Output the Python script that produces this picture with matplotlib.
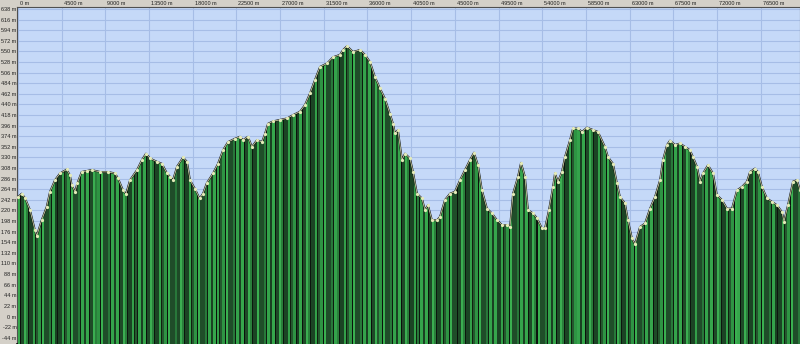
"""
Elevation profile, green striped fill on a light blue grid.
"""

import numpy as np
import matplotlib
matplotlib.use("Agg")
import matplotlib.pyplot as plt
from matplotlib.patches import Rectangle
from matplotlib.transforms import ScaledTranslation

# distance along the route (m) and elevation (m)
distance = [0, 380, 720, 1240, 1750, 1930, 2440, 2960, 3300, 3810, 4330, 5020, 5360, 5530,
            5870, 6110, 6560, 7080, 7590, 8450, 9270, 9990, 10300, 10820, 11120, 11540,
            12260, 12770, 13180, 13600, 14320, 14830, 15350, 15660, 15970, 16380, 17000,
            17410, 17720, 18230, 18700, 19060, 19430, 20090, 20600, 21120, 21630, 22350,
            22870, 23180, 23690, 24100, 24620, 25130, 25440, 25750, 26270, 26990, 27710,
            28330, 29050, 29560, 30080, 30590, 31110, 31830, 32450, 33170, 33480, 33890,
            34510, 35230, 35740, 36260, 36770, 37290, 37800, 38320, 38630, 38830, 39140,
            39550, 39860, 40380, 40690, 41100, 41610, 41920, 42230, 42640, 43160, 43470,
            43980, 44500, 45010, 45530, 46040, 46560, 46970, 47380, 47790, 48310, 48820,
            49340, 49850, 50370, 50680, 50990, 51500, 51810, 52220, 52530, 53050, 53460,
            53970, 54280, 54690, 55110, 55310, 55620, 56030, 56340, 56860, 57170, 57680,
            58090, 58610, 59230, 59740, 60460, 60770, 61290, 61700, 62010, 62520, 62830,
            63240, 63550, 64070, 64580, 65100, 65610, 66130, 66440, 66850, 67160, 67670,
            68190, 68700, 69220, 69530, 69940, 70250, 70560, 71070, 71590, 71990, 72510,
            73030, 73540, 74060, 74570, 75090, 75400, 75910, 76220, 76630, 77150, 77660,
            78180, 78690, 78900, 79310, 79830, 80240, 80550]
elevation = [248, 255, 246, 221, 179, 167, 200, 228, 259, 283, 297, 305, 293, 273,
             259, 276, 300, 302, 304, 300, 300, 297, 287, 262, 254, 283,
             304, 325, 338, 328, 321, 317, 297, 290, 283, 311, 330,
             321, 283, 265, 245, 255, 276, 297, 317, 345, 362, 369,
             373, 366, 373, 352, 366, 362, 379, 400, 405, 408, 411,
             418, 425, 439, 463, 491, 518, 525, 538, 543, 553, 561,
             549, 553, 543, 528, 497, 473, 452, 420, 400, 380, 387,
             325, 338, 328, 300, 255, 245, 221, 231, 200, 200, 207,
             242, 255, 259, 283, 304, 325, 340, 314, 262, 224, 214,
             200, 190, 190, 186, 255, 290, 319, 290, 221, 214, 204,
             183, 183, 221, 269, 297, 280, 300, 331, 366, 390, 390,
             383, 392, 387, 383, 352, 331, 317, 276, 248, 235, 200,
             162, 150, 186, 193, 224, 248, 283, 325, 356, 365, 356,
             359, 352, 345, 331, 311, 280, 297, 314, 297, 252, 242,
             224, 224, 262, 269, 280, 300, 307, 300, 269, 245, 238,
             231, 217, 197, 231, 280, 283, 262]

x_ticks = list(range(0, 80000, 4500))
y_ticks = list(range(-44, 639, 22))

fig = plt.figure(figsize=(8, 3.59), dpi=100, facecolor="#d4d0c8")
fig.patches.append(Rectangle((0, 0), 1, 15 / 359, transform=fig.transFigure,
                             facecolor="white", edgecolor="none", zorder=0))
ax = fig.add_axes([17 / 800, 15 / 359, 783 / 800, 337 / 359])
ax.set_facecolor("#c5d9f8")

ymin, ymax = -57, 642
xmin, xmax = -100, 80550
ax.set_xlim(xmin, xmax)
ax.set_ylim(ymin, ymax)

ax.set_xticks(x_ticks)
ax.set_yticks(y_ticks)
ax.set_xticklabels([f"{t} m" for t in x_ticks])
ax.set_yticklabels([f"{t} m" for t in y_ticks])
ax.grid(True, color="#a6bde6", lw=0.8)
ax.set_axisbelow(True)
ax.xaxis.tick_top()
ax.tick_params(length=0, labelsize=4.0, colors="#202020")
ax.tick_params(axis="x", pad=0.8)
ax.tick_params(axis="y", pad=0.4)
for lab in ax.get_xticklabels() + ax.get_yticklabels():
    lab.set_family("Liberation Sans")
for lab in ax.get_xticklabels():
    lab.set_horizontalalignment("left")
    lab.set_transform(lab.get_transform() + ScaledTranslation(2 / 100, 0, fig.dpi_scale_trans))

for s in ax.spines.values():
    s.set_color("#505050")
    s.set_linewidth(0.8)
ax.spines["bottom"].set_color("black")
ax.spines["bottom"].set_linewidth(1.2)

# green fill, then stripes clipped to it
area = ax.fill_between(distance, elevation, ymin, color="#2c8a3c", lw=0, zorder=2)
clip = area.get_paths()[0]

stripe_cols = ["#36a64c", "#0a100b", "#1e4a27", "#3bae51", "#2a7f3b", "#0c160e",
               "#1b4424", "#33a049", "#10200f", "#24582e", "#2e9443", "#0b120c",
               "#3ab050", "#1f4d29", "#28783a", "#0d1a0f", "#34a34b", "#1a4022"]
stripe_w = [3, 1, 3, 2, 2, 1, 4, 2, 1, 2, 3, 1, 2, 5, 2, 1, 3, 2]
cols = []
i = 0
while len(cols) < 800:
    k = (i + 5 * (i // 18)) % len(stripe_cols)
    cols.extend([stripe_cols[k]] * stripe_w[k])
    i += 1
rgb = np.array([matplotlib.colors.to_rgb(c) for c in cols[:783]])[None, :, :]
img = ax.imshow(rgb, extent=(xmin, xmax, ymin, ymax), aspect="auto",
                interpolation="nearest", zorder=3)
img.set_clip_path(clip, transform=ax.transData)

ax.plot(distance, elevation, color="#141414", lw=1.3, zorder=4)
ax.plot(distance, elevation, color="#e4ebb8", lw=0.5, marker="o", ms=1.3,
        mec="#e4ebb8", zorder=5)

ax.set_xlim(xmin, xmax)
ax.set_ylim(ymin, ymax)
fig.savefig("out.png", dpi=100, facecolor=fig.get_facecolor())
